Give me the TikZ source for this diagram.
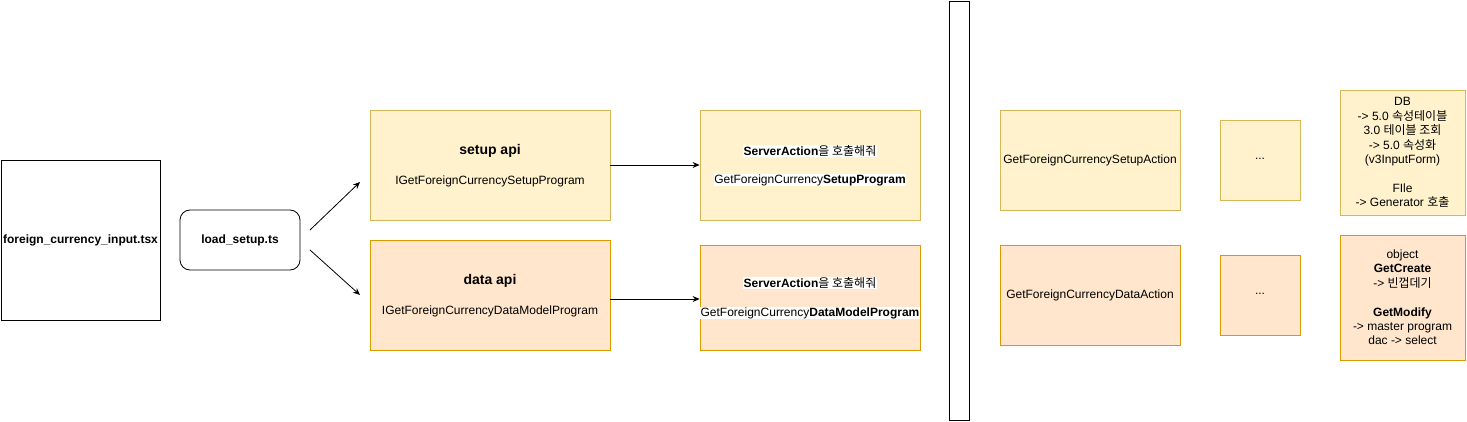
\documentclass[tikz,border=0pt]{standalone}
\usepackage{fontspec}
\setmainfont{Liberation Sans}
\newfontfamily\kr{Noto Sans CJK KR}
\usetikzlibrary{arrows.meta}
\definecolor{ylfill}{HTML}{FFF2CC}
\definecolor{yldraw}{HTML}{D6B656}
\definecolor{orfill}{HTML}{FFE6CC}
\definecolor{ordraw}{HTML}{D79B00}
\newcommand{\hl}[1]{{\setlength{\fboxsep}{0.5pt}\colorbox{white}{#1}}}
\begin{document}
\begin{tikzpicture}[x=1pt,y=-1pt,
  every node/.style={font=\fontsize{12}{14.4}\selectfont, inner sep=0pt, align=center},
  plain/.style={draw=black, fill=white, line width=0.8pt},
  ylbox/.style={draw=yldraw, fill=ylfill, line width=0.8pt},
  orbox/.style={draw=ordraw, fill=orfill, line width=0.8pt},
  conn/.style={line width=0.8pt, -{Stealth[length=7pt,width=6pt]}},
  headfont/.style={font=\fontsize{14}{16.8}\selectfont\bfseries}
]
\useasboundingbox (0,0) rectangle (1467,422);

% left
\node[plain, minimum width=159pt, minimum height=160pt, font=\fontsize{12}{14.4}\selectfont\bfseries] (fci) at (80.5,240) {foreign\_currency\_input.tsx};
\node[plain, rounded corners=10pt, minimum width=120pt, minimum height=60pt, font=\fontsize{12}{14.4}\selectfont\bfseries] (load) at (240,240) {load\_setup.ts};

\coordinate (l1) at (310,230);
\coordinate (e1) at (360,182);
\coordinate (l2) at (310,250);
\coordinate (e2) at (360,295);
\draw[conn] (l1) -- (e1);
\draw[conn] (l2) -- (e2);

% api boxes
\node[ylbox, minimum width=240pt, minimum height=110pt] (setup) at (490,165) {};
\node[headfont] at (490,151) {setup api};
\node at (490,181) {IGetForeignCurrencySetupProgram};

\node[orbox, minimum width=240pt, minimum height=110pt] (data) at (490,295) {};
\node[headfont] at (490,281) {data api};
\node at (490,311) {IGetForeignCurrencyDataModelProgram};

% server action boxes
\node[ylbox, minimum width=220pt, minimum height=110pt] (sa1) at (810,165) {};
\node at (810,151) {\hl{\textbf{ServerAction}{\kr 을 호출해줘}}};
\node at (810,180) {\hl{GetForeignCurrency\textbf{SetupProgram}}};

\node[orbox, minimum width=220pt, minimum height=105pt] (sa2) at (810,297.5) {};
\node at (810,283) {\hl{\textbf{ServerAction}{\kr 을 호출해줘}}};
\node at (810,313) {\hl{GetForeignCurrency\textbf{DataModelProgram}}};

\draw[conn] (setup.east) -- (sa1.west);
\draw[conn] ([yshift=-4pt]data.east) -- ([yshift=-4pt]data.east -| sa2.west);

% vertical bar
\node[plain, minimum width=20pt, minimum height=419pt] (bar) at (959,210.5) {};

% action boxes
\node[ylbox, minimum width=180pt, minimum height=100pt] (act1) at (1090,160) {GetForeignCurrencySetupAction};
\node[orbox, minimum width=180pt, minimum height=100pt] (act2) at (1090,295) {GetForeignCurrencyDataAction};

\node[ylbox, minimum width=80pt, minimum height=80pt] (dots1) at (1260,160) {\raisebox{3pt}{...}};
\node[orbox, minimum width=80pt, minimum height=80pt] (dots2) at (1260,295) {\raisebox{3pt}{...}};

% right notes
\node[ylbox, minimum width=125pt, minimum height=125pt] (db) at (1402.5,152.5) {DB\\-> 5.0 {\kr 속성테이블}\\3.0 {\kr 테이블 조회}\\-> 5.0 {\kr 속성화}\\(v3InputForm)\\[14.4pt]FIle\\-> Generator {\kr 호출}};
\node[orbox, minimum width=125pt, minimum height=125pt] (obj) at (1402.5,297.5) {object\\\textbf{GetCreate}\\-> {\kr 빈껍데기}\\[14.4pt]\textbf{GetModify}\\-> master program\\dac -> select};
\end{tikzpicture}
\end{document}
